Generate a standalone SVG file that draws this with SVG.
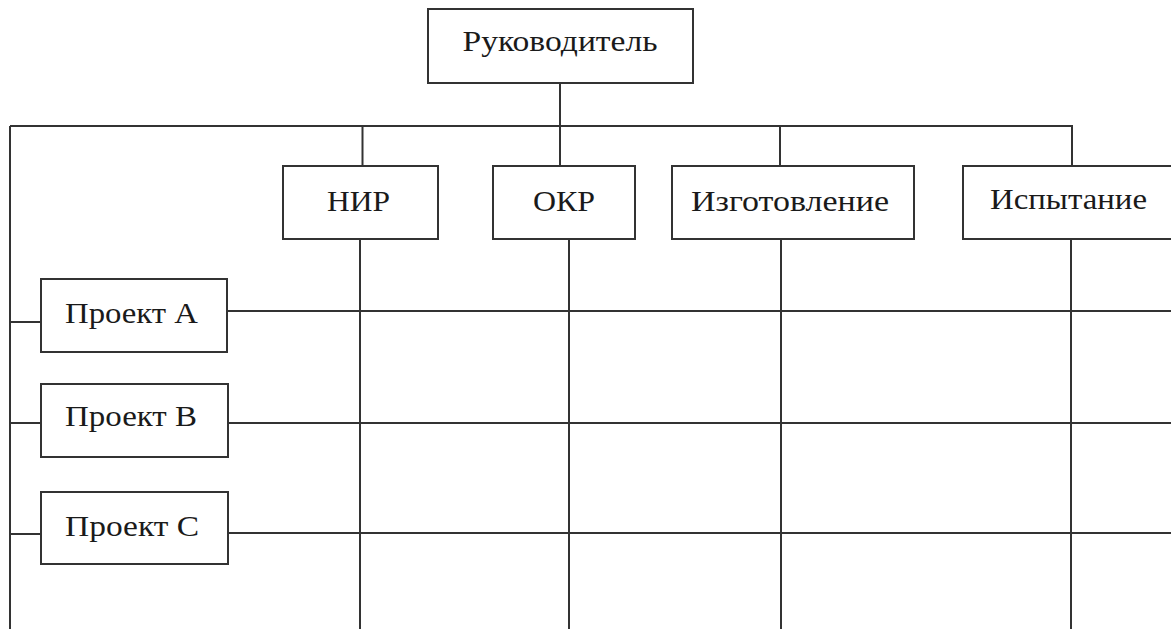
<svg xmlns="http://www.w3.org/2000/svg" width="1171" height="629" viewBox="0 0 1171 629">
<style>
.box{fill:#fff;stroke:#333;stroke-width:2}
.ln{stroke:#333;stroke-width:2;fill:none}
.t{font-family:"Liberation Serif","DejaVu Serif",serif;font-size:30px;fill:#1a1a1a;text-anchor:middle}
</style>
<rect width="1171" height="629" fill="#fff"/>
<g id="connectors">
<path class="ln" d="M560 83V166"/>
<path class="ln" d="M10 126H1072V166"/>
<path class="ln" d="M10 126V629"/>
<path class="ln" d="M362.5 126V166"/>
<path class="ln" d="M780 126V166"/>
<path class="ln" d="M360 239V629"/>
<path class="ln" d="M569 239V629"/>
<path class="ln" d="M781 239V629"/>
<path class="ln" d="M1071 239V629"/>
<path class="ln" d="M10 322H41"/>
<path class="ln" d="M10 423H41"/>
<path class="ln" d="M10 534H41"/>
<path class="ln" d="M227 311H1171"/>
<path class="ln" d="M228 423H1171"/>
<path class="ln" d="M228 533H1171"/>
</g>
<g id="n-head"><rect class="box" x="428" y="9" width="265" height="74"/><text class="t" x="560" y="51" textLength="195" lengthAdjust="spacingAndGlyphs">Руководитель</text></g>
<g id="n-nir"><rect class="box" x="283" y="166" width="155" height="73"/><text class="t" x="358.5" y="211" textLength="63" lengthAdjust="spacingAndGlyphs">НИР</text></g>
<g id="n-okr"><rect class="box" x="493" y="166" width="142" height="73"/><text class="t" x="564" y="211" textLength="62" lengthAdjust="spacingAndGlyphs">ОКР</text></g>
<g id="n-izg"><rect class="box" x="672" y="166" width="242" height="73"/><text class="t" x="790" y="211" textLength="198" lengthAdjust="spacingAndGlyphs">Изготовление</text></g>
<g id="n-isp"><rect class="box" x="963" y="166" width="220" height="73"/><text class="t" x="1068.5" y="209" textLength="157" lengthAdjust="spacingAndGlyphs">Испытание</text></g>
<g id="n-a"><rect class="box" x="41" y="279" width="186" height="73"/><text class="t" x="131.5" y="323" textLength="133" lengthAdjust="spacingAndGlyphs">Проект А</text></g>
<g id="n-b"><rect class="box" x="41" y="384" width="187" height="73"/><text class="t" x="131" y="426" textLength="132" lengthAdjust="spacingAndGlyphs">Проект В</text></g>
<g id="n-c"><rect class="box" x="41" y="492" width="187" height="72"/><text class="t" x="132" y="536" textLength="134" lengthAdjust="spacingAndGlyphs">Проект С</text></g>
</svg>
